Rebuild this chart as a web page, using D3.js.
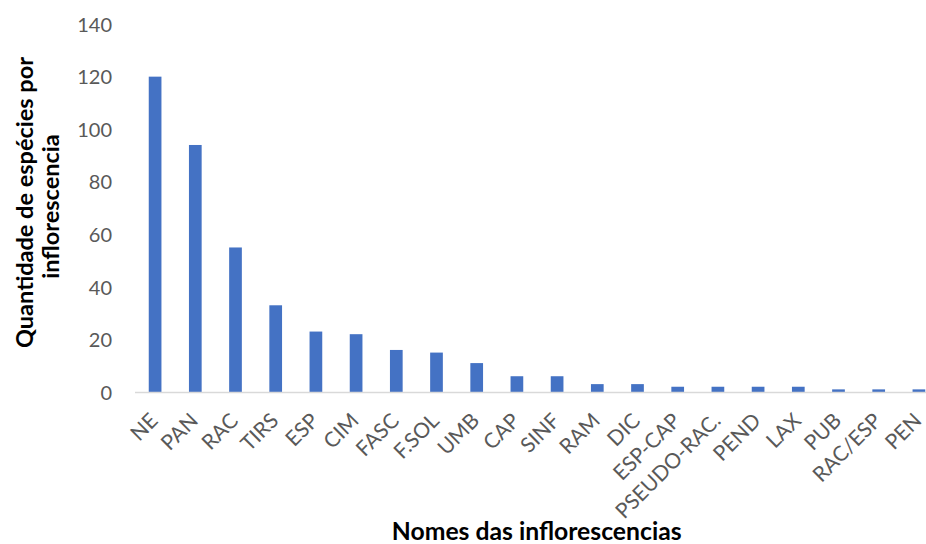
<!DOCTYPE html>
<html><head><meta charset="utf-8">
<script src="https://cdn.jsdelivr.net/npm/d3@7"></script>
<style>body{margin:0;background:#fff}svg{display:block}</style>
</head><body>
<svg id="c" width="926" height="544"></svg>
<script>
const categories = ["NE","PAN","RAC","TIRS","ESP","CIM","FASC","F.SOL","UMB","CAP","SINF","RAM","DIC","ESP-CAP","PSEUDO-RAC.","PEND","LAX","PUB","RAC/ESP","PEN"];
const values = [120,94,55,33,23,22,16,15,11,6,6,3,3,2,2,2,2,1,1,1];
const yTicks = [0,20,40,60,80,100,120,140];
const yTitle = ["Quantidade de espécies por","inflorescencia"];
const xTitle = "Nomes das inflorescencias";

const svg = d3.select("#c");
const font = "Lato, 'Open Sans', sans-serif";
const x = d3.scaleBand().domain(categories).range([135, 939]).paddingInner(0.684).paddingOuter(0.342);
const y = d3.scaleLinear().domain([0,140]).range([392, 24.1]);

// bars
svg.append("g").selectAll("rect").data(values).join("rect")
  .attr("x",(d,i)=>x(categories[i])).attr("width",x.bandwidth())
  .attr("y",d=>y(d)).attr("height",d=>y(0)-y(d)).attr("fill","#4472c4");

// x axis line
svg.append("line").attr("x1",135).attr("x2",926).attr("y1",y(0)+0.5).attr("y2",y(0)+0.5)
  .attr("stroke","#d9d9d9").attr("stroke-width",1.5);

// y axis labels
const yAxis = d3.axisLeft(y).tickValues(yTicks).tickSize(0).tickPadding(0);
const gy = svg.append("g").attr("transform","translate(112,0)").call(yAxis);
gy.select(".domain").remove();
gy.selectAll("text").attr("font-family",font).attr("font-size",20).attr("fill","#595959").attr("dy","0.36em");

// x axis labels
const xAxis = d3.axisBottom(x).tickSize(0).tickPadding(0);
const gx = svg.append("g").attr("transform",`translate(0,${y(0)})`).call(xAxis);
gx.select(".domain").remove();
gx.selectAll("text").attr("font-family",font).attr("font-size",21).attr("fill","#595959")
  .attr("text-anchor","end").attr("dy",null).attr("y",0)
  .attr("transform","translate(4,30) rotate(-45)");

function fit(sel, target){
  const w = sel.node().getComputedTextLength();
  const fs = parseFloat(sel.attr("font-size"));
  const nfs = fs*target/w;
  sel.attr("font-size", nfs);
  return nfs;
}

// titles
const y1 = svg.append("text").attr("transform","translate(33,202.5) rotate(-90)")
  .attr("text-anchor","middle").attr("font-family",font).attr("font-weight","bold")
  .attr("font-size",22).attr("fill","#000").text(yTitle[0]);
const fs = fit(y1, 291);
svg.append("text").attr("transform","translate(59,206.5) rotate(-90)")
  .attr("text-anchor","middle").attr("font-family",font).attr("font-weight","bold")
  .attr("font-size",fs).attr("fill","#000").text(yTitle[1]);

const xt = svg.append("text").attr("x",536.7).attr("y",540).attr("text-anchor","middle")
  .attr("font-family",font).attr("font-weight","bold").attr("font-size",22).text(xTitle);
fit(xt, 290);
</script>
</body></html>
